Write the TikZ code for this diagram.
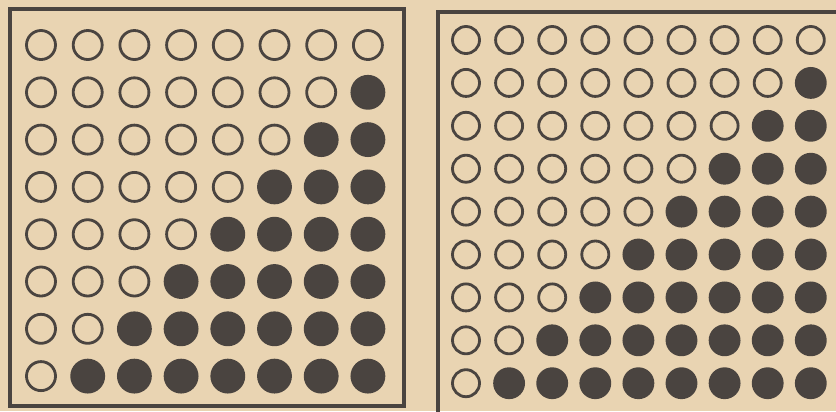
\documentclass[tikz,border=0pt]{standalone}
\usepackage{tikz}
\definecolor{paper}{HTML}{E9D4B2}
\definecolor{ink}{HTML}{4A4440}
\tikzset{
  frame/.style={draw=ink, line width=0.95pt},
  ring/.style={circle, draw=ink, line width=0.8pt, inner sep=0pt, minimum size=0.29cm},
  disc/.style={ring, fill=ink, minimum size=0.32cm},
  ringr/.style={ring, minimum size=0.27cm},
  discr/.style={disc, minimum size=0.29cm},
}
\begin{document}
\begin{tikzpicture}[x=0.01cm, y=-0.01cm]
    \path[use as bounding box, fill=paper] (0,0) rectangle (836,411);
    \clip (0,0) rectangle (836,411);
    % left panel, 8 x 8
    \draw[frame] (10,9) rectangle (404,406);
    \foreach \r in {0,...,7}{
      \foreach \c in {0,...,7}{
        \pgfmathtruncatemacro{\full}{\c+\r>=8 ? 1 : 0}
        \ifnum\full=1
          \node[disc] (l-\r-\c) at (41+\c*46.7, 45+\r*47.3) {};
        \else
          \node[ring] (l-\r-\c) at (41+\c*46.7, 45+\r*47.3) {};
        \fi
      }
    }
    % right panel, 9 x 9
    \draw[frame] (438,12) rectangle (850,430);
    \foreach \r in {0,...,8}{
      \foreach \c in {0,...,8}{
        \pgfmathtruncatemacro{\full}{\c+\r>=9 ? 1 : 0}
        \ifnum\full=1
          \node[discr] (r-\r-\c) at (466+\c*43.1, 40+\r*42.9) {};
        \else
          \node[ringr] (r-\r-\c) at (466+\c*43.1, 40+\r*42.9) {};
        \fi
      }
    }
  \end{tikzpicture}
\end{document}
